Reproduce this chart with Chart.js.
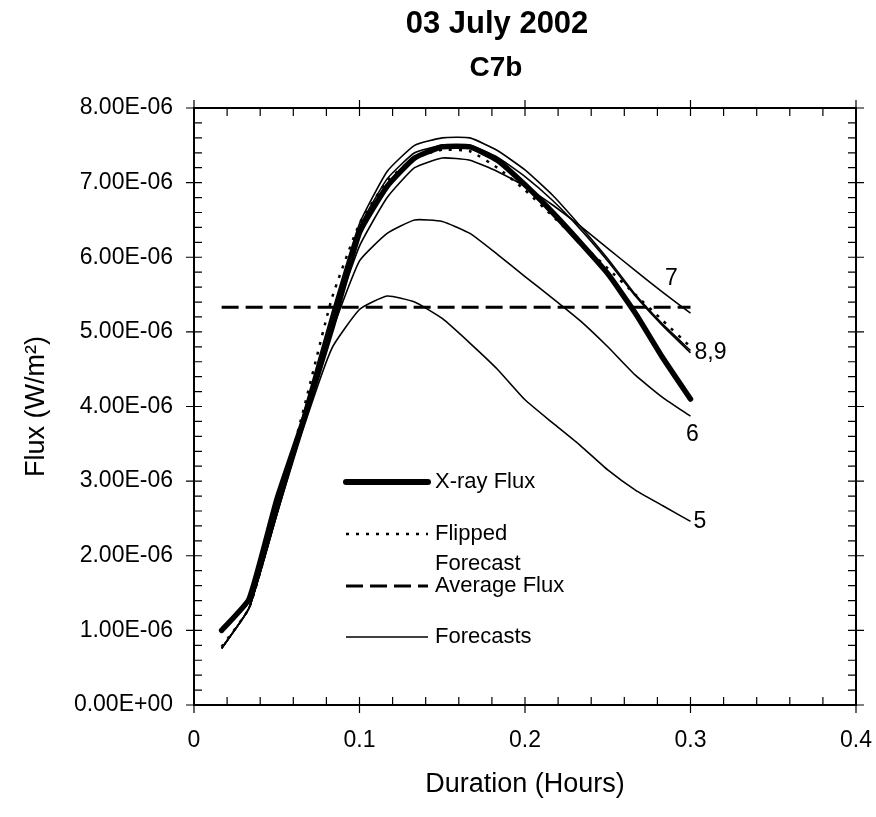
<!DOCTYPE html>
<html>
<head>
<meta charset="utf-8">
<script src="https://cdn.jsdelivr.net/npm/chart.js@4.4.1/dist/chart.umd.min.js"></script>
<style>
  html, body { margin: 0; padding: 0; background: #fff; }
  #wrap { width: 876px; height: 817px; }
</style>
</head>
<body>
<div id="wrap"><canvas id="chart" width="876" height="817"></canvas></div>
<script>
// minutes 1..18 expressed in hours
const durationHours = [0.0167, 0.0333, 0.05, 0.0667, 0.0833, 0.1, 0.1167, 0.1333, 0.15,
  0.1667, 0.1833, 0.2, 0.2167, 0.2333, 0.25, 0.2667, 0.2833, 0.3];

// flux values in units of 1e-6 W/m^2
const xrayFlux = [1.0, 1.42, 2.75, 3.85, 5.05, 6.33, 6.95, 7.33, 7.48, 7.48, 7.3, 6.97, 6.6, 6.2, 5.78, 5.25, 4.65, 4.1];
const flippedForecast = [0.78, 1.3, 2.6, 4.0, 5.45, 6.45, 7.02, 7.33, 7.44, 7.42, 7.2, 6.9, 6.55, 6.2, 5.85, 5.5, 5.15, 4.8];
const forecast5 = [0.76, 1.3, 2.55, 3.75, 4.78, 5.3, 5.48, 5.4, 5.18, 4.85, 4.5, 4.09, 3.78, 3.48, 3.15, 2.88, 2.67, 2.46];
const forecast6 = [0.76, 1.3, 2.55, 3.8, 5.0, 5.95, 6.32, 6.5, 6.48, 6.32, 6.04, 5.74, 5.45, 5.15, 4.8, 4.42, 4.12, 3.87];
const forecast7 = [0.76, 1.3, 2.55, 3.85, 5.1, 6.15, 6.8, 7.2, 7.33, 7.3, 7.15, 6.95, 6.7, 6.42, 6.12, 5.82, 5.53, 5.25];
const forecast8 = [0.76, 1.3, 2.6, 3.95, 5.25, 6.45, 7.15, 7.5, 7.6, 7.6, 7.43, 7.17, 6.83, 6.42, 5.98, 5.5, 5.1, 4.75];
const forecast9 = [0.76, 1.3, 2.6, 3.9, 5.2, 6.4, 7.05, 7.4, 7.5, 7.5, 7.34, 7.08, 6.76, 6.38, 5.95, 5.48, 5.08, 4.72];
const averageFlux = 5.33;
const averageRange = [0.0167, 0.3];

const xTicks = [0, 0.1, 0.2, 0.3, 0.4];
const yTicks = [0, 1, 2, 3, 4, 5, 6, 7, 8];

const FONT = "'Liberation Sans', Arial, sans-serif";

const toPoints = (vals) => vals.map((v, i) => ({ x: durationHours[i], y: v * 1e-6 }));

const thin = (label, vals) => ({
  label: label,
  data: toPoints(vals),
  borderColor: "#000",
  borderWidth: 1.6,
  pointRadius: 0,
  tension: 0.15,
  fill: false,
});

const sciLabel = (v) => {
  if (v === 0) return "0.00E+00";
  let [m, e] = v.toExponential(2).toUpperCase().split("E");
  let sign = e[0];
  let digits = e.slice(1).padStart(2, "0");
  return m + "E" + sign + digits;
};

// frame, minor ticks, titles, legend and end labels
const decorations = {
  id: "decorations",
  afterDatasetsDraw(chart) {
    const ctx = chart.ctx;
    const { left, right, top, bottom } = chart.chartArea;
    const xs = chart.scales.x;
    const ys = chart.scales.y;
    ctx.save();
    ctx.strokeStyle = "#000";
    ctx.lineWidth = 2;
    ctx.setLineDash([]);
    ctx.strokeRect(left, top, right - left, bottom - top);

    ctx.lineWidth = 1.2;
    ctx.beginPath();
    for (let i = 0; i <= 20; i++) {
      const px = xs.getPixelForValue(i * 0.02);
      const major = i % 5 === 0;
      ctx.moveTo(px, bottom + (major ? 8 : 0));
      ctx.lineTo(px, bottom - 8);
      ctx.moveTo(px, top - (major ? 8 : 0));
      ctx.lineTo(px, top + 8);
    }
    for (let i = 0; i <= 40; i++) {
      const py = ys.getPixelForValue(i * 0.2e-6);
      const major = i % 5 === 0;
      ctx.moveTo(left - (major ? 8 : 0), py);
      ctx.lineTo(left + 8, py);
      ctx.moveTo(right + (major ? 8 : 0), py);
      ctx.lineTo(right - 8, py);
    }
    ctx.stroke();

    // titles
    ctx.fillStyle = "#000";
    ctx.textAlign = "center";
    ctx.textBaseline = "middle";
    ctx.font = "bold 31px " + FONT;
    ctx.fillText("03 July 2002", 497, 24);
    ctx.font = "bold 28px " + FONT;
    ctx.fillText("C7b", 496, 68);

    // legend
    const lx0 = 346, lx1 = 428, tx = 435;
    const rows = [
      { y: 482, width: 6, dash: [], cap: "round" },
      { y: 534, width: 2.5, dash: [3, 7], cap: "butt" },
      { y: 586, width: 3, dash: [17, 7], cap: "butt" },
      { y: 637, width: 1.6, dash: [], cap: "butt" },
    ];
    rows.forEach((r) => {
      ctx.beginPath();
      ctx.lineWidth = r.width;
      ctx.setLineDash(r.dash);
      ctx.lineCap = r.cap;
      ctx.moveTo(lx0, r.y);
      ctx.lineTo(lx1, r.y);
      ctx.stroke();
    });
    ctx.setLineDash([]);
    ctx.lineCap = "butt";
    ctx.font = "22px " + FONT;
    ctx.textAlign = "left";
    ctx.fillText("X-ray Flux", tx, 482);
    ctx.fillText("Flipped", tx, 534);
    ctx.fillText("Forecast", tx, 564);
    ctx.fillText("Average Flux", tx, 586);
    ctx.fillText("Forecasts", tx, 637);

    // labels at the end of the forecasts
    const endX = xs.getPixelForValue(durationHours[durationHours.length - 1]);
    const last = (vals) => ys.getPixelForValue(vals[vals.length - 1] * 1e-6);
    ctx.font = "23px " + FONT;
    ctx.textAlign = "center";
    ctx.fillText("7", endX - 19, last(forecast7) - 35);
    ctx.fillText("6", endX + 2, last(forecast6) + 18);
    ctx.textAlign = "left";
    ctx.fillText("8,9", endX + 4, last(forecast8) + 2);
    ctx.fillText("5", endX + 3, last(forecast5));
    ctx.restore();
  },
};

new Chart(document.getElementById("chart"), {
  type: "line",
  data: {
    datasets: [
      thin("Forecast 5", forecast5),
      thin("Forecast 6", forecast6),
      thin("Forecast 7", forecast7),
      thin("Forecast 8", forecast8),
      thin("Forecast 9", forecast9),
      {
        label: "Average Flux",
        data: averageRange.map((x) => ({ x: x, y: averageFlux * 1e-6 })),
        borderColor: "#000",
        borderWidth: 3,
        borderDash: [17, 7],
        pointRadius: 0,
      },
      {
        label: "Flipped Forecast",
        data: toPoints(flippedForecast),
        borderColor: "#000",
        borderWidth: 2.5,
        borderDash: [3, 7],
        pointRadius: 0,
        tension: 0.15,
      },
      {
        label: "X-ray Flux",
        data: toPoints(xrayFlux),
        borderColor: "#000",
        borderWidth: 5.5,
        borderCapStyle: "round",
        borderJoinStyle: "round",
        pointRadius: 0,
        tension: 0.15,
      },
    ],
  },
  options: {
    responsive: false,
    animation: false,
    layout: { padding: { top: 108, right: 20, left: 0, bottom: 0 } },
    plugins: { legend: { display: false }, tooltip: { enabled: false } },
    scales: {
      x: {
        type: "linear",
        min: 0,
        max: 0.4,
        afterFit: (s) => { s.height = 112; s.paddingLeft = 0; s.paddingRight = 0; },
        afterBuildTicks: (s) => { s.ticks = xTicks.map((v) => ({ value: v })); },
        grid: { display: false, drawTicks: false },
        border: { display: false },
        ticks: {
          color: "#000",
          padding: 22,
          font: { family: FONT, size: 23 },
          callback: (v) => String(+v.toFixed(1)),
        },
        title: {
          display: true,
          text: "Duration (Hours)",
          color: "#000",
          font: { family: FONT, size: 27 },
          padding: { bottom: 16 },
        },
      },
      y: {
        min: 0,
        max: 8e-6,
        afterFit: (s) => { s.width = 194; s.paddingTop = 0; s.paddingBottom = 0; },
        afterBuildTicks: (s) => { s.ticks = yTicks.map((v) => ({ value: v * 1e-6 })); },
        grid: { display: false, drawTicks: false },
        border: { display: false },
        ticks: {
          color: "#000",
          padding: 21,
          font: { family: FONT, size: 23 },
          callback: (v) => sciLabel(v),
        },
        title: {
          display: true,
          text: "Flux (W/m²)",
          color: "#000",
          font: { family: FONT, size: 27 },
          padding: { top: 20 },
        },
      },
    },
  },
  plugins: [decorations],
});
</script>
</body>
</html>
